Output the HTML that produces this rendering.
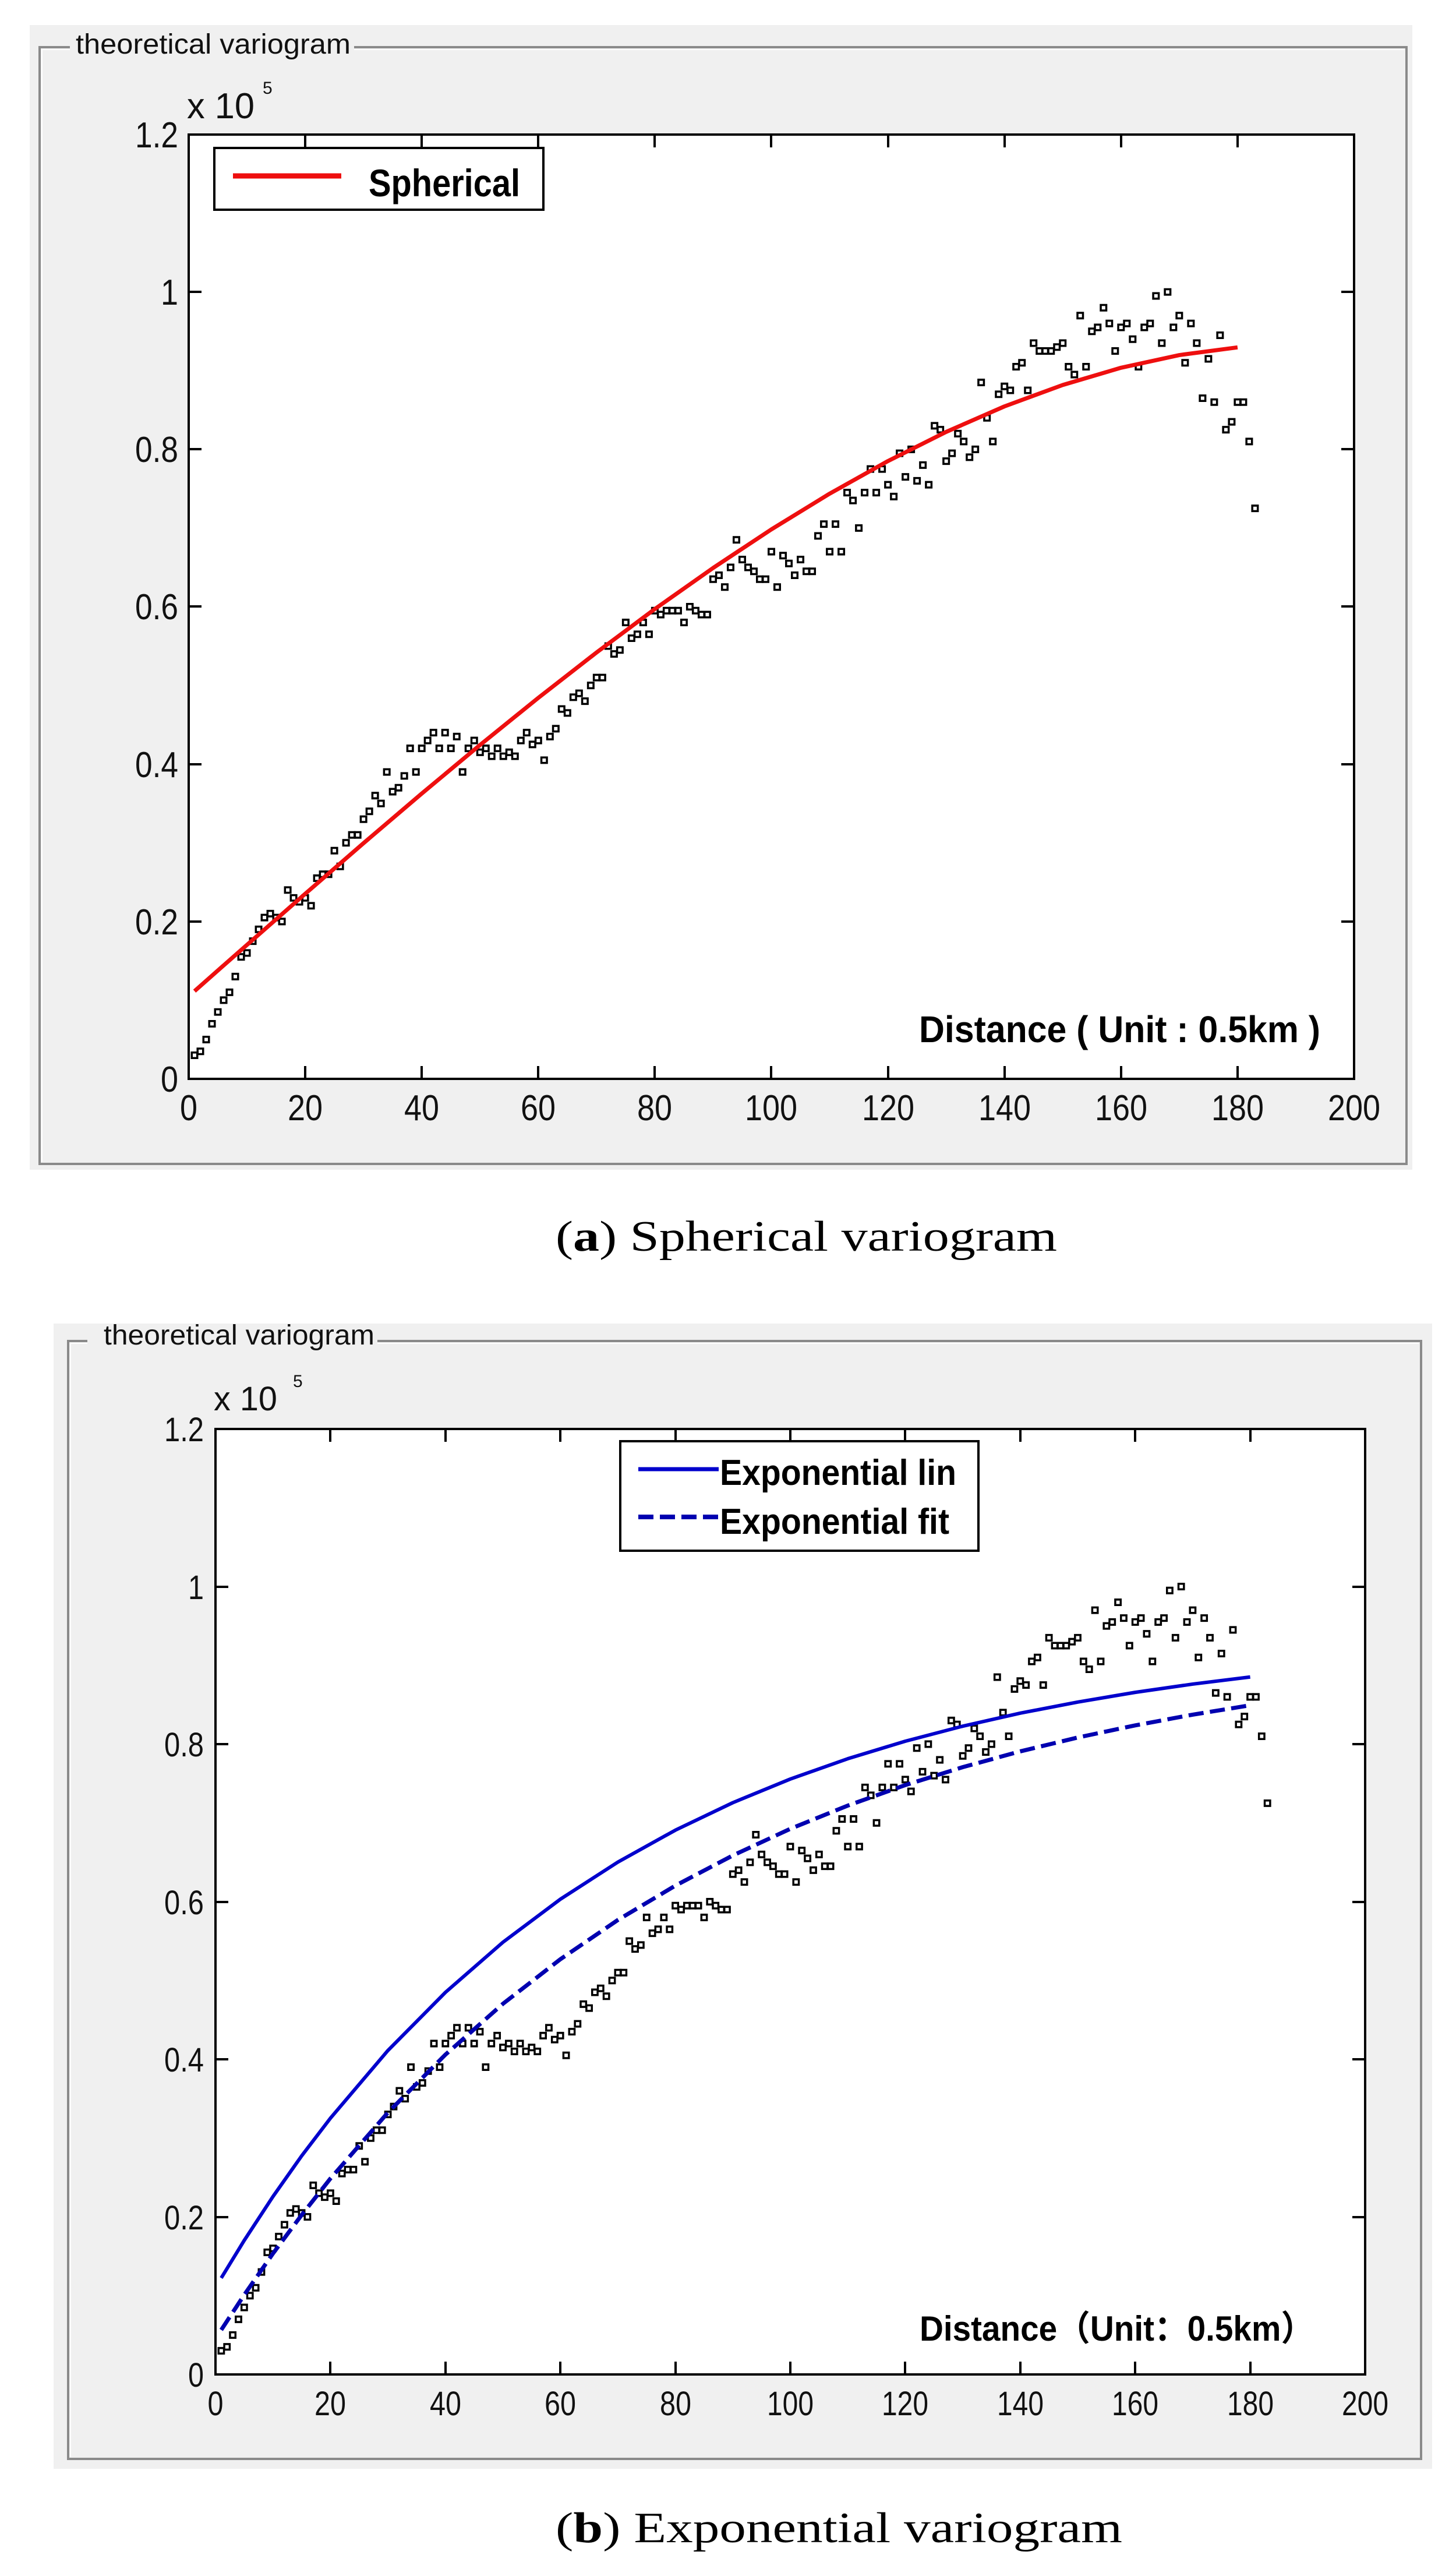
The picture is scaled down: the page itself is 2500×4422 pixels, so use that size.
<!DOCTYPE html>
<html><head><meta charset="utf-8"><style>html,body{margin:0;padding:0;background:#fff}svg{display:block}</style></head>
<body>
<svg xmlns="http://www.w3.org/2000/svg" width="2500" height="4422" viewBox="0 0 2500 4422" font-family="Liberation Sans, sans-serif">
<defs>
<marker id="m" markerUnits="userSpaceOnUse" overflow="visible" refX="0" refY="0" markerWidth="1" markerHeight="1">
<path fill="#000" fill-rule="evenodd" d="M-0.65 -4.8 H0.65 V4.8 H-0.65 Z M-0.3 -2.2 H0.3 V2.2 H-0.3 Z"/>
</marker>
</defs>
<rect width="2500" height="4422" fill="#fff"/>

<!-- ===== PANEL A ===== -->
<rect x="51" y="43" width="2374" height="1965" fill="#f0f0f0"/>
<path d="M120 81 H68 V1998 H2415 V81 H608" fill="none" stroke="#8a8a8a" stroke-width="4"/>
<path d="M120 85 H72 V1994 M608 85 H2411" fill="none" stroke="#fff" stroke-width="2"/>
<text x="130" y="92" font-size="48" textLength="472" lengthAdjust="spacingAndGlyphs" fill="#111">theoretical variogram</text>
<text x="321" y="203" font-size="62" textLength="116" lengthAdjust="spacingAndGlyphs" fill="#111">x 10</text>
<text x="451" y="161" font-size="30" fill="#111">5</text>

<rect x="324" y="231" width="2001" height="1621" fill="#fff"/>
<g stroke="#000" stroke-width="4">
<path d="M524 231v22M724 231v22M924 231v22M1124 231v22M1324 231v22M1525 231v22M1725 231v22M1925 231v22M2125 231v22"/>
<path d="M524 1852v-22M724 1852v-22M924 1852v-22M1124 1852v-22M1324 1852v-22M1525 1852v-22M1725 1852v-22M1925 1852v-22M2125 1852v-22"/>
<path d="M324 1582h22M324 1312h22M324 1041h22M324 771h22M324 501h22"/>
<path d="M2325 1582h-22M2325 1312h-22M2325 1041h-22M2325 771h-22M2325 501h-22"/>
</g>

<g transform="translate(324,1852) scale(10.005,-1.3508)">
<path fill="none" stroke="none" marker-start="url(#m)" marker-mid="url(#m)" marker-end="url(#m)" d="M1 30 L2 35 3 50 4 70 5 85 6 100 7 110 8 130 9 155 10 160 11 175 12 190 13 205 14 210 15 205 16 200 17 240 18 230 19 225 20 230 21 220 22 255 23 260 24 260 25 290 26 270 27 300 28 310 29 310 30 330 31 340 32 360 33 350 34 390 35 365 36 370 37 385 38 420 39 390 40 420 41 430 42 440 43 420 44 440 45 420 46 435 47 390 48 420 49 430 50 415 51 420 52 410 53 420 54 410 55 415 56 410 57 430 58 440 59 425 60 430 61 405 62 435 63 445 64 470 65 465 66 485 67 490 68 480 69 500 70 510 71 510 72 550 73 540 74 545 75 580 76 560 77 565 78 580 79 565 80 595 81 590 82 595 83 595 84 595 85 580 86 600 87 595 88 590 89 590 90 635 91 640 92 625 93 650 94 685 95 660 96 650 97 645 98 635 99 635 100 670 101 625 102 665 103 655 104 640 105 660 106 645 107 645 108 690 109 705 110 670 111 705 112 670 113 745 114 735 115 700 116 745 117 775 118 745 119 775 120 755 121 740 122 795 123 765 124 800 125 760 126 780 127 755 128 830 129 825 130 785 131 795 132 820 133 810 134 790 135 800 136 885 137 840 138 810 139 870 140 880 141 875 142 905 143 910 144 875 145 935 146 925 147 925 148 925 149 930 150 935 151 905 152 895 153 970 154 905 155 950 156 955 157 980 158 960 159 925 160 955 161 960 162 940 163 905 164 955 165 960 166 995 167 935 168 1000 169 955 170 970 171 910 172 960 173 935 174 865 175 915 176 860 177 945 178 825 179 835 180 860 181 860 182 810 183 725"/>
<polyline fill="none" stroke="#ee0f0f" stroke-width="7" vector-effect="non-scaling-stroke" stroke-linejoin="round" points="1,111.5 5,137.7 10,170.3 20,235.2 30,299.5 40,362.6 50,424.3 60,484.2 70,541.9 80,597.1 90,649.3 100,698.3 110,743.7 120,785.1 130,822.2 140,854.6 150,881.8 160,903.7 170,919.8 180,929.6"/>
</g>
<rect x="324" y="231" width="2001" height="1621" fill="none" stroke="#000" stroke-width="4"/>

<rect x="368" y="254" width="565" height="106" fill="#fff" stroke="#000" stroke-width="4"/>
<line x1="400" y1="302" x2="586" y2="302" stroke="#ee0f0f" stroke-width="9"/>
<text x="633" y="337" font-size="66" font-weight="bold" textLength="260" lengthAdjust="spacingAndGlyphs">Spherical</text>
<text x="1578" y="1789" font-size="64" font-weight="bold" textLength="689" lengthAdjust="spacingAndGlyphs">Distance ( Unit : 0.5km )</text>

<g font-size="62" fill="#111" text-anchor="end">
<text x="306" y="1874" textLength="30" lengthAdjust="spacingAndGlyphs">0</text>
<text x="306" y="1604" textLength="74" lengthAdjust="spacingAndGlyphs">0.2</text>
<text x="306" y="1334" textLength="74" lengthAdjust="spacingAndGlyphs">0.4</text>
<text x="306" y="1063" textLength="74" lengthAdjust="spacingAndGlyphs">0.6</text>
<text x="306" y="793" textLength="74" lengthAdjust="spacingAndGlyphs">0.8</text>
<text x="306" y="523" textLength="30" lengthAdjust="spacingAndGlyphs">1</text>
<text x="306" y="253" textLength="74" lengthAdjust="spacingAndGlyphs">1.2</text>
</g>
<g font-size="62" fill="#111" text-anchor="middle">
<text x="324" y="1923" textLength="30" lengthAdjust="spacingAndGlyphs">0</text>
<text x="524" y="1923" textLength="60" lengthAdjust="spacingAndGlyphs">20</text>
<text x="724" y="1923" textLength="60" lengthAdjust="spacingAndGlyphs">40</text>
<text x="924" y="1923" textLength="60" lengthAdjust="spacingAndGlyphs">60</text>
<text x="1124" y="1923" textLength="60" lengthAdjust="spacingAndGlyphs">80</text>
<text x="1324" y="1923" textLength="90" lengthAdjust="spacingAndGlyphs">100</text>
<text x="1525" y="1923" textLength="90" lengthAdjust="spacingAndGlyphs">120</text>
<text x="1725" y="1923" textLength="90" lengthAdjust="spacingAndGlyphs">140</text>
<text x="1925" y="1923" textLength="90" lengthAdjust="spacingAndGlyphs">160</text>
<text x="2125" y="1923" textLength="90" lengthAdjust="spacingAndGlyphs">180</text>
<text x="2325" y="1923" textLength="90" lengthAdjust="spacingAndGlyphs">200</text>
</g>
<text x="954" y="2147" font-family="Liberation Serif, serif" font-size="74" textLength="861" lengthAdjust="spacingAndGlyphs">(<tspan font-weight="bold">a</tspan>) Spherical variogram</text>

<!-- ===== PANEL B ===== -->
<rect x="92" y="2272" width="2367" height="1966" fill="#f0f0f0"/>
<path d="M150 2302 H117 V4221 H2440 V2302 H648" fill="none" stroke="#8a8a8a" stroke-width="4"/>
<path d="M150 2306 H121 V4217 M648 2306 H2436" fill="none" stroke="#fff" stroke-width="2"/>
<text x="178" y="2308" font-size="48" textLength="465" lengthAdjust="spacingAndGlyphs" fill="#111">theoretical variogram</text>
<text x="367" y="2421" font-size="58" textLength="109" lengthAdjust="spacingAndGlyphs" fill="#111">x 10</text>
<text x="503" y="2381" font-size="30" fill="#111">5</text>

<rect x="370" y="2453" width="1974" height="1623" fill="#fff"/>
<g stroke="#000" stroke-width="4">
<path d="M567 2453v22M765 2453v22M962 2453v22M1160 2453v22M1357 2453v22M1554 2453v22M1752 2453v22M1949 2453v22M2147 2453v22"/>
<path d="M567 4076v-22M765 4076v-22M962 4076v-22M1160 4076v-22M1357 4076v-22M1554 4076v-22M1752 4076v-22M1949 4076v-22M2147 4076v-22"/>
<path d="M370 3806h22M370 3535h22M370 3265h22M370 2994h22M370 2724h22"/>
<path d="M2344 3806h-22M2344 3535h-22M2344 3265h-22M2344 2994h-22M2344 2724h-22"/>
</g>

<g transform="translate(370,4076) scale(9.87,-1.3525)">
<path fill="none" stroke="none" marker-start="url(#m)" marker-mid="url(#m)" marker-end="url(#m)" d="M1 30 L2 35 3 50 4 70 5 85 6 100 7 110 8 130 9 155 10 160 11 175 12 190 13 205 14 210 15 205 16 200 17 240 18 230 19 225 20 230 21 220 22 255 23 260 24 260 25 290 26 270 27 300 28 310 29 310 30 330 31 340 32 360 33 350 34 390 35 365 36 370 37 385 38 420 39 390 40 420 41 430 42 440 43 420 44 440 45 420 46 435 47 390 48 420 49 430 50 415 51 420 52 410 53 420 54 410 55 415 56 410 57 430 58 440 59 425 60 430 61 405 62 435 63 445 64 470 65 465 66 485 67 490 68 480 69 500 70 510 71 510 72 550 73 540 74 545 75 580 76 560 77 565 78 580 79 565 80 595 81 590 82 595 83 595 84 595 85 580 86 600 87 595 88 590 89 590 90 635 91 640 92 625 93 650 94 685 95 660 96 650 97 645 98 635 99 635 100 670 101 625 102 665 103 655 104 640 105 660 106 645 107 645 108 690 109 705 110 670 111 705 112 670 113 745 114 735 115 700 116 745 117 775 118 745 119 775 120 755 121 740 122 795 123 765 124 800 125 760 126 780 127 755 128 830 129 825 130 785 131 795 132 820 133 810 134 790 135 800 136 885 137 840 138 810 139 870 140 880 141 875 142 905 143 910 144 875 145 935 146 925 147 925 148 925 149 930 150 935 151 905 152 895 153 970 154 905 155 950 156 955 157 980 158 960 159 925 160 955 161 960 162 940 163 905 164 955 165 960 166 995 167 935 168 1000 169 955 170 970 171 910 172 960 173 935 174 865 175 915 176 860 177 945 178 825 179 835 180 860 181 860 182 810 183 725"/>
<polyline fill="none" stroke="#0000cc" stroke-width="6" vector-effect="non-scaling-stroke" stroke-linejoin="round" points="1,122.4 5,170.1 10,225.8 15,277.5 20,325.3 30,411.2 40,484.9 50,548.5 60,603.2 70,650.3 80,690.8 90,725.7 100,755.7 110,781.5 120,803.7 130,822.8 140,839.3 150,853.4 160,865.7 170,876.2 180,885.2"/>
<polyline fill="none" stroke="#0000b0" stroke-width="7" stroke-dasharray="26 11" vector-effect="non-scaling-stroke" points="1,56.5 5,101 10,153.5 15,202.5 20,248.7 30,332.4 40,405.9 50,470.4 60,527 70,576.8 80,620.4 90,658.7 100,692.5 110,722 120,748 130,770.8 140,790.8 150,808.4 160,823.8 170,837.4 180,849.3"/>
</g>
<rect x="370" y="2453" width="1974" height="1623" fill="none" stroke="#000" stroke-width="4"/>

<rect x="1065" y="2474" width="615" height="188" fill="#fff" stroke="#000" stroke-width="4"/>
<line x1="1096" y1="2522" x2="1234" y2="2522" stroke="#0000cc" stroke-width="7"/>
<line x1="1096" y1="2604" x2="1234" y2="2604" stroke="#0000b0" stroke-width="8" stroke-dasharray="26 11"/>
<text x="1236" y="2549" font-size="62" font-weight="bold" textLength="406" lengthAdjust="spacingAndGlyphs">Exponential lin</text>
<text x="1236" y="2633" font-size="62" font-weight="bold" textLength="394" lengthAdjust="spacingAndGlyphs">Exponential fit</text>
<text x="1579" y="4018" font-family="Liberation Sans, Noto Sans CJK SC, sans-serif" font-size="60" font-weight="bold" textLength="677" lengthAdjust="spacingAndGlyphs">Distance（Unit：0.5km）</text>

<g font-size="58" fill="#111" text-anchor="end">
<text x="350" y="4097" textLength="27" lengthAdjust="spacingAndGlyphs">0</text>
<text x="350" y="3827" textLength="68" lengthAdjust="spacingAndGlyphs">0.2</text>
<text x="350" y="3556" textLength="68" lengthAdjust="spacingAndGlyphs">0.4</text>
<text x="350" y="3286" textLength="68" lengthAdjust="spacingAndGlyphs">0.6</text>
<text x="350" y="3015" textLength="68" lengthAdjust="spacingAndGlyphs">0.8</text>
<text x="350" y="2745" textLength="27" lengthAdjust="spacingAndGlyphs">1</text>
<text x="350" y="2474" textLength="68" lengthAdjust="spacingAndGlyphs">1.2</text>
</g>
<g font-size="58" fill="#111" text-anchor="middle">
<text x="370" y="4146" textLength="27" lengthAdjust="spacingAndGlyphs">0</text>
<text x="567" y="4146" textLength="54" lengthAdjust="spacingAndGlyphs">20</text>
<text x="765" y="4146" textLength="54" lengthAdjust="spacingAndGlyphs">40</text>
<text x="962" y="4146" textLength="54" lengthAdjust="spacingAndGlyphs">60</text>
<text x="1160" y="4146" textLength="54" lengthAdjust="spacingAndGlyphs">80</text>
<text x="1357" y="4146" textLength="80" lengthAdjust="spacingAndGlyphs">100</text>
<text x="1554" y="4146" textLength="80" lengthAdjust="spacingAndGlyphs">120</text>
<text x="1752" y="4146" textLength="80" lengthAdjust="spacingAndGlyphs">140</text>
<text x="1949" y="4146" textLength="80" lengthAdjust="spacingAndGlyphs">160</text>
<text x="2147" y="4146" textLength="80" lengthAdjust="spacingAndGlyphs">180</text>
<text x="2344" y="4146" textLength="80" lengthAdjust="spacingAndGlyphs">200</text>
</g>
<text x="954" y="4364" font-family="Liberation Serif, serif" font-size="74" textLength="973" lengthAdjust="spacingAndGlyphs">(<tspan font-weight="bold">b</tspan>) Exponential variogram</text>
</svg>
</body></html>
